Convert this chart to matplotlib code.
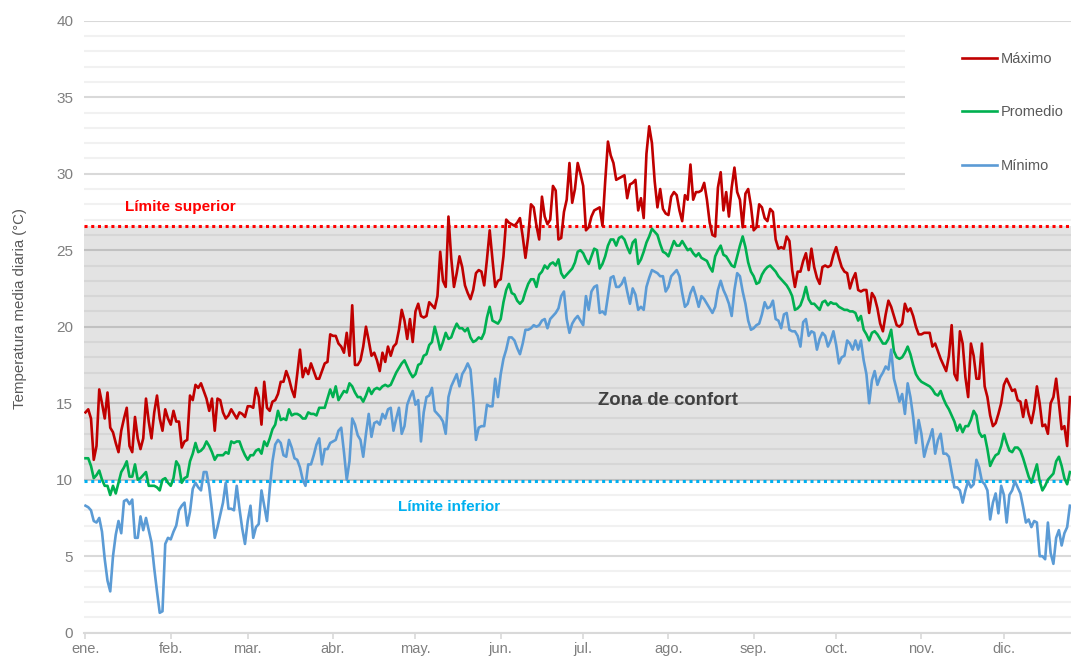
import numpy as np
import matplotlib
matplotlib.use('Agg')
import matplotlib.pyplot as plt
from matplotlib.patches import Rectangle
from matplotlib.transforms import blended_transform_factory

plt.rcParams['font.family'] = ['Liberation Sans', 'DejaVu Sans']

# temperatura media diaria (°C), un valor por día desde el 1 de enero
maximo = [
    14.4, 14.6, 14.0, 11.3, 12.2, 15.9, 15.0, 14.0, 15.7, 13.4,
    13.1, 12.4, 11.8, 13.2, 14.0, 14.7, 12.2, 11.8, 14.1, 12.7,
    12.0, 12.7, 15.3, 13.8, 12.7, 14.4, 15.5, 14.0, 13.2, 14.6,
    14.0, 13.6, 14.5, 13.8, 13.8, 12.1, 12.5, 12.6, 15.5, 15.2,
    16.2, 16.0, 16.3, 15.8, 15.3, 14.5, 15.3, 13.2, 15.3, 15.2,
    14.4, 14.0, 14.2, 14.6, 14.3, 14.0, 14.4, 14.3, 14.1, 14.8,
    14.8, 14.7, 16.0, 15.4, 13.6, 16.4, 14.7, 14.5, 15.1, 15.2,
    15.6, 16.4, 16.4, 17.1, 16.6, 15.9, 15.4, 16.9, 18.5, 16.7,
    17.3, 16.9, 17.6, 17.1, 16.6, 16.6, 17.1, 17.6, 17.7, 19.5,
    19.4, 19.4, 18.9, 18.7, 18.3, 19.6, 18.1, 21.4, 17.5, 17.5,
    17.8, 18.7, 20.0, 19.1, 18.1, 18.3, 17.8, 17.1, 18.3, 17.7,
    18.7, 18.1, 18.7, 18.9, 19.8, 21.1, 20.4, 19.2, 20.5, 19.0,
    21.0, 21.5, 20.7, 20.6, 20.7, 21.6, 21.4, 21.2, 22.0, 24.9,
    23.0, 22.6, 27.2, 24.5, 22.6, 23.5, 24.6, 23.9, 22.7, 22.2,
    21.8, 22.4, 23.5, 23.7, 23.6, 22.7, 24.4, 26.3, 24.4, 22.6,
    23.0, 23.1, 24.6, 27.0, 26.8, 26.7, 26.6, 26.8, 27.1, 25.9,
    24.5, 25.9, 28.0, 27.8, 26.6, 25.7, 28.5, 27.2, 26.7, 27.0,
    29.2, 28.9, 25.7, 25.8, 27.5, 28.3, 30.7, 28.1, 29.0, 30.7,
    30.0, 29.2, 26.3, 26.5, 27.2, 27.6, 27.7, 27.8, 26.6, 29.5,
    32.1, 31.2, 30.7, 29.6, 29.7, 29.8, 29.9, 28.4, 29.3, 29.4,
    29.6, 27.6, 28.4, 27.1, 31.3, 33.1, 32.0, 29.5, 27.8, 29.0,
    27.7, 27.4, 27.3, 28.5, 28.8, 28.6, 27.6, 26.9, 28.6, 28.3,
    30.6, 28.3, 28.8, 28.8, 28.9, 29.4, 28.3, 26.8, 26.0, 25.9,
    29.1, 30.1, 27.6, 28.8, 27.2, 29.1, 30.4, 28.8, 28.3, 26.5,
    28.7, 29.0, 27.9, 26.3, 26.5, 28.0, 27.8, 27.1, 26.9, 27.7,
    27.5, 25.7, 25.1, 25.2, 25.1, 25.9, 25.6, 23.7, 22.6, 23.6,
    23.6, 24.3, 24.8, 23.7, 25.1, 23.9, 23.2, 22.8, 23.9, 24.0,
    23.9, 24.0, 24.7, 25.2, 24.5, 23.9, 23.6, 23.5, 22.5, 23.1,
    23.5, 22.4, 22.3, 22.4, 22.4, 20.9, 22.2, 21.9, 21.2, 20.2,
    19.7, 20.8, 21.7, 21.3, 20.7, 20.1, 20.0, 20.2, 21.5, 21.0,
    21.2, 20.7, 20.0, 19.5, 19.5, 19.6, 19.6, 19.6, 18.7, 18.9,
    18.4, 17.9, 17.5, 17.1, 18.1, 20.1, 16.9, 16.5, 19.7, 18.9,
    16.7, 15.4, 18.9, 18.1, 16.6, 16.6, 18.9, 16.1, 15.4, 14.2,
    13.5, 13.7, 14.3, 15.0, 16.2, 16.6, 16.2, 15.8, 15.9, 15.2,
    15.1, 14.1, 15.2, 14.3, 13.7, 14.6, 16.1, 15.0, 13.5, 13.6,
    13.0, 15.0, 15.4, 16.6, 15.0, 13.3, 13.5, 12.2, 15.4,
]

promedio = [
    11.4, 11.4, 10.9, 10.1, 10.3, 10.6, 10.0, 9.6, 9.6, 9.0,
    9.6, 9.1, 9.8, 10.5, 10.8, 11.2, 10.2, 10.2, 11.0, 10.0,
    10.1, 10.3, 10.5, 9.6, 9.6, 9.6, 9.5, 9.3, 10.0, 10.1,
    9.8, 9.6, 10.1, 11.2, 10.9, 9.8, 10.1, 10.2, 11.2, 11.7,
    12.4, 11.8, 11.9, 12.1, 12.5, 12.2, 11.8, 11.3, 11.6, 11.6,
    11.6, 11.8, 11.7, 12.5, 12.4, 12.5, 12.5, 12.0, 11.6, 11.3,
    11.6, 11.6, 11.9, 12.0, 11.7, 12.5, 12.2, 12.7, 13.3, 13.6,
    14.5, 13.9, 14.0, 13.9, 14.6, 14.2, 14.3, 14.3, 14.2, 14.0,
    14.0, 14.4, 14.3, 14.3, 14.2, 14.7, 14.7, 14.7, 15.3, 15.9,
    15.4, 16.1, 15.2, 15.5, 15.8, 15.7, 16.3, 16.1, 15.7, 15.4,
    15.4, 15.1, 15.5, 16.0, 15.6, 15.9, 16.0, 15.9, 16.1, 16.2,
    16.1, 16.2, 16.6, 17.0, 17.3, 17.6, 17.8, 17.4, 17.0, 16.7,
    16.9, 17.5, 17.6, 18.1, 18.2, 18.8, 19.0, 20.0, 19.3, 18.5,
    19.0, 19.6, 19.2, 19.3, 19.8, 20.2, 19.9, 19.9, 19.7, 19.9,
    19.3, 19.0, 19.1, 19.3, 19.2, 19.6, 20.6, 21.3, 20.4, 20.3,
    20.2, 20.5, 21.6, 22.4, 22.8, 22.2, 22.1, 21.7, 21.5, 21.7,
    22.3, 22.8, 23.1, 23.1, 22.6, 23.4, 23.6, 24.0, 23.8, 24.1,
    24.2, 24.0, 24.4, 23.5, 23.2, 23.4, 23.6, 23.8, 24.2, 24.9,
    25.0, 24.8, 24.4, 24.1, 24.6, 25.1, 25.0, 23.8, 24.1, 24.6,
    25.3, 25.7, 25.7, 25.3, 25.8, 25.9, 25.7, 25.2, 24.8, 25.5,
    25.7, 24.1, 24.4, 24.9, 25.5, 25.9, 26.4, 26.2, 26.0, 25.4,
    24.9, 24.8, 24.6, 25.1, 25.6, 25.3, 25.3, 25.6, 25.3, 25.0,
    25.1, 24.8, 24.6, 24.8, 24.5, 24.4, 24.3, 23.9, 23.6, 24.6,
    25.0, 25.3, 24.7, 24.6, 24.3, 24.0, 23.9, 24.6, 25.3, 25.9,
    25.2, 24.2, 23.6, 23.3, 22.8, 22.9, 23.4, 23.7, 23.9, 24.0,
    23.8, 23.6, 23.3, 23.1, 22.9, 22.7, 22.4, 22.0, 21.1, 21.2,
    21.4, 21.9, 22.6, 21.8, 21.5, 21.5, 21.3, 21.1, 21.6, 21.7,
    21.4, 21.6, 21.5, 21.5, 21.3, 21.2, 21.1, 21.1, 21.0, 21.0,
    20.9, 20.4, 20.7, 19.8, 19.5, 19.1, 19.6, 19.7, 19.5, 19.2,
    18.9, 18.9, 19.2, 19.8, 18.4, 18.0, 17.9, 18.0, 18.3, 18.7,
    18.2, 17.5, 16.9, 16.6, 16.4, 16.3, 16.2, 16.1, 15.9, 15.6,
    15.5, 15.8, 15.3, 14.9, 14.6, 14.2, 13.8, 13.2, 13.6, 13.1,
    13.5, 13.5, 13.9, 14.5, 14.2, 13.1, 12.8, 12.9, 12.0, 10.9,
    11.3, 11.6, 11.7, 12.2, 13.0, 12.4, 11.9, 11.8, 12.1, 12.1,
    11.9, 11.4, 10.8, 10.2, 9.8, 10.4, 11.0, 9.9, 9.3, 9.6,
    10.0, 10.2, 10.4, 11.2, 11.5, 10.9, 10.1, 9.7, 10.5,
]

minimo = [
    8.3, 8.2, 8.0, 7.3, 7.2, 7.5, 6.6, 4.8, 3.4, 2.7,
    5.0, 6.4, 7.3, 6.5, 8.6, 8.7, 8.4, 8.7, 6.2, 6.2,
    7.6, 6.7, 7.5, 6.7, 5.9, 4.2, 2.7, 1.3, 1.4, 5.8,
    6.2, 6.1, 6.6, 7.0, 8.0, 8.3, 8.5, 7.0, 7.9, 9.4,
    9.8, 9.5, 9.3, 10.5, 10.5, 9.5, 8.0, 6.2, 6.9, 7.7,
    8.5, 9.8, 8.1, 8.1, 8.0, 9.6, 8.1, 6.8, 5.8, 7.3,
    8.3, 6.2, 6.9, 7.1, 9.3, 8.3, 7.3, 9.4, 11.2, 12.3,
    12.6, 12.4, 11.6, 11.5, 12.6, 12.1, 11.4, 11.3, 10.8, 10.0,
    9.6, 11.0, 11.0, 11.6, 12.3, 12.7, 11.0, 12.0, 12.0, 12.4,
    12.5, 12.6, 13.2, 13.4, 11.8, 10.0, 11.2, 14.0, 13.6, 12.9,
    12.6, 11.5, 13.0, 14.3, 12.8, 13.7, 13.8, 13.6, 14.3, 14.0,
    14.6, 14.7, 13.2, 14.0, 14.7, 13.0, 13.5, 14.9, 15.4, 15.8,
    14.9, 15.2, 12.5, 14.4, 15.4, 15.5, 16.0, 14.5, 14.3, 14.1,
    13.8, 13.0, 15.4, 16.1, 16.5, 16.9, 16.1, 16.9, 17.2, 17.6,
    17.2, 15.2, 12.6, 13.4, 13.5, 13.5, 14.9, 14.8, 14.8, 16.6,
    15.4, 16.9, 17.9, 18.5, 19.3, 19.3, 19.1, 18.6, 18.2, 18.9,
    19.8, 19.8, 19.9, 20.1, 20.0, 20.1, 20.4, 20.5, 19.9, 20.5,
    20.7, 20.9, 21.2, 22.0, 22.3, 20.5, 19.6, 20.2, 20.5, 20.7,
    20.4, 20.1, 22.0, 21.1, 22.3, 22.6, 22.7, 20.9, 21.0, 20.8,
    22.0, 23.2, 23.3, 22.6, 22.6, 22.8, 23.2, 22.3, 21.5, 22.5,
    22.1, 21.1, 21.3, 21.1, 22.6, 23.2, 23.7, 23.6, 23.5, 23.3,
    23.3, 22.3, 22.6, 23.3, 23.5, 23.7, 23.3, 22.2, 21.3, 21.5,
    22.2, 22.6, 22.0, 21.3, 22.0, 21.8, 21.5, 21.2, 20.9, 21.3,
    22.4, 23.0, 22.4, 22.0, 21.5, 20.7, 22.4, 23.5, 23.3, 22.3,
    21.5, 20.4, 19.8, 19.9, 20.1, 20.2, 20.8, 21.6, 21.2, 21.3,
    21.7, 20.5, 20.4, 19.9, 20.8, 20.9, 19.8, 19.7, 19.7, 19.4,
    18.7, 20.3, 20.5, 19.4, 19.7, 19.6, 18.5, 19.2, 19.6, 19.4,
    18.7, 19.1, 19.7, 18.8, 17.6, 18.0, 18.1, 19.1, 18.9, 18.5,
    19.1, 18.5, 19.1, 17.8, 16.9, 15.0, 16.5, 17.1, 16.2, 16.7,
    17.0, 17.4, 17.2, 18.5, 16.6, 15.9, 15.1, 15.6, 14.3, 16.3,
    15.4, 14.1, 12.4, 13.9, 13.0, 11.5, 12.2, 12.7, 13.3, 11.7,
    12.6, 13.0, 11.7, 11.7, 11.5, 10.5, 9.5, 9.5, 9.3, 8.5,
    9.3, 9.9, 9.5, 9.7, 11.3, 10.8, 9.9, 9.7, 9.3, 7.4,
    8.5, 9.1, 7.8, 9.6, 9.0, 7.2, 9.0, 9.3, 9.9, 9.5,
    9.1, 8.2, 7.2, 7.4, 6.9, 7.3, 7.2, 5.0, 5.0, 4.8,
    7.2, 5.2, 4.5, 6.2, 6.7, 5.7, 6.5, 6.9, 8.3,
]

meses = ['ene.', 'feb.', 'mar.', 'abr.', 'may.', 'jun.',
         'jul.', 'ago.', 'sep.', 'oct.', 'nov.', 'dic.']
inicio_mes = [0, 31, 59, 90, 120, 151, 181, 212, 243, 273, 304, 334]

limite_superior = 26.6
limite_inferior = 9.9

dias = np.arange(len(maximo))

fig = plt.figure(figsize=(10.71, 6.6), dpi=100)
ax = fig.add_axes([0.0787, 0.0414, 0.9213, 0.9272])

# zona de confort sombreada, con la rejilla por encima
ax.axhspan(limite_inferior, limite_superior, color='#e3e3e3', lw=0, zorder=0.2)

l1, = ax.plot(dias, maximo, color='#c00000', lw=1.9, zorder=3)
l2, = ax.plot(dias, promedio, color='#00b050', lw=1.9, zorder=3)
l3, = ax.plot(dias, minimo, color='#5b9bd5', lw=1.9, zorder=3)

ax.axhline(limite_superior, color='#ff0000', lw=2.2, ls=(0, (1, 1.2)), zorder=2.5)
ax.axhline(limite_inferior, color='#00b0f0', lw=2.2, ls=(0, (1, 1.2)), zorder=2.5)

ax.text(14.4, 27.8, 'Límite superior', color='#ff0000', fontsize=11,
        fontweight='bold', ha='left', va='center')
ax.text(113.6, 8.2, 'Límite inferior', color='#00b0f0', fontsize=11,
        fontweight='bold', ha='left', va='center')
ax.text(211.8, 15.15, 'Zona de confort', color='#404040', fontsize=13.3,
        fontweight='bold', ha='center', va='center')

ax.set_xlim(-0.44, 358.4)
ax.set_ylim(0, 40)
ax.set_yticks(range(0, 41, 5))
ax.set_yticks(range(0, 41), minor=True)
ax.set_xticks(inicio_mes)
ax.set_xticklabels(meses)

ax.set_axisbelow(True)
ax.grid(axis='y', which='major', color='black', alpha=0.15, lw=1.5)
ax.grid(axis='y', which='minor', color='black', alpha=0.055, lw=1.5)
ax.grid(axis='x', visible=False)

for s in ['left', 'top', 'right']:
    ax.spines[s].set_visible(False)
ax.spines['bottom'].set_color('#d9d9d9')
ax.spines['bottom'].set_linewidth(1.5)

ax.tick_params(axis='y', which='both', length=0, labelsize=11,
               labelcolor='#7f7f7f', pad=8)
ax.tick_params(axis='x', which='major', length=4, width=1.2, color='#d9d9d9',
               labelsize=10.5, labelcolor='#7f7f7f', pad=3)

ax.set_ylabel('Temperatura media diaria (°C)', fontsize=10.8, color='#595959')
ax.yaxis.set_label_coords(-0.0585, 0.53)

# fondo blanco detrás de la leyenda
tr = blended_transform_factory(ax.transAxes, ax.transData)
ax.add_patch(Rectangle((0.8318, 28.5), 0.2, 11.0, transform=tr,
                       facecolor='white', edgecolor='none', zorder=0.8))

leg = ax.legend([l1, l2, l3], ['Máximo', 'Promedio', 'Mínimo'],
                loc='upper left', bbox_to_anchor=(0.898, 0.9212),
                bbox_transform=fig.transFigure, frameon=False, fontsize=10.5,
                handlelength=2.45, handletextpad=0.2, labelspacing=2.7,
                borderpad=0, borderaxespad=0)
for t in leg.get_texts():
    t.set_color('#595959')

fig.savefig('out.png', dpi=100)
